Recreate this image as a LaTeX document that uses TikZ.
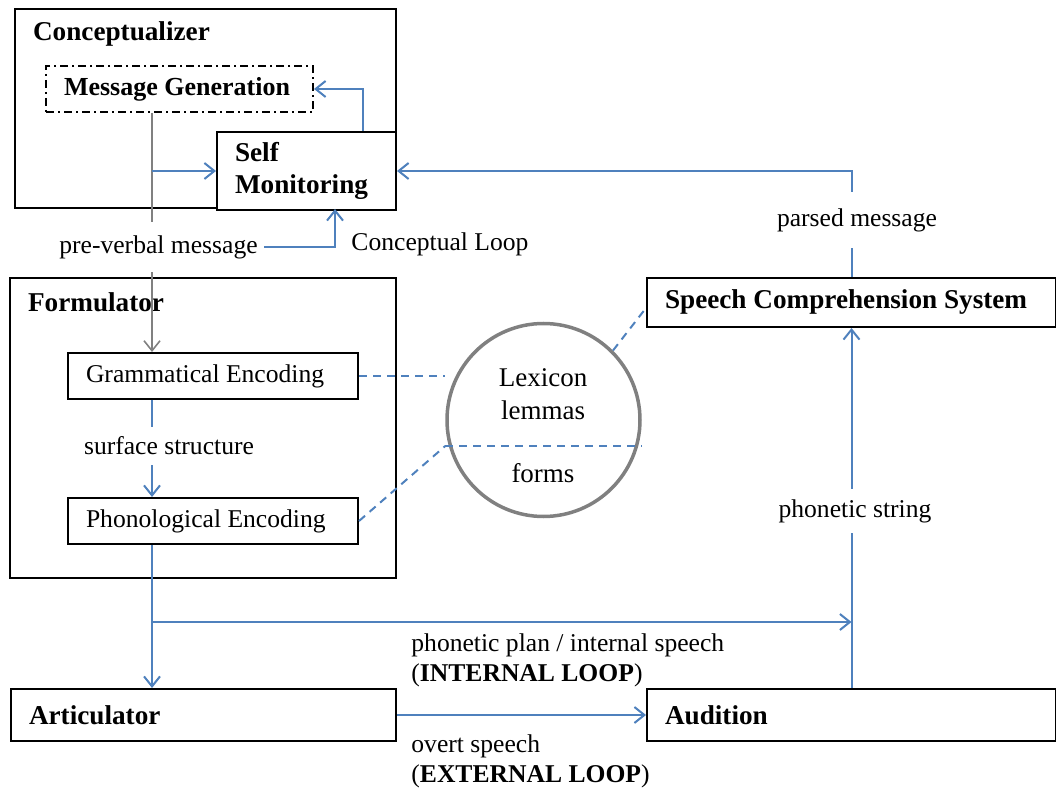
\documentclass[tikz,border=0pt]{standalone}
\usepackage{fontspec}
\setmainfont{Liberation Serif}
\usepackage{tikz}
\usetikzlibrary{arrows.meta,positioning}
\definecolor{corazul}{RGB}{79,129,189}
\definecolor{corcinza}{RGB}{128,128,128}

\begin{document}
\begin{tikzpicture}[
  x=0.5pt, y=-0.5pt,
  every node/.style={font=\fontsize{12.8}{15}\selectfont},
  modulo/.style={draw, line width=1pt, anchor=north west, inner xsep=9pt,
                 inner ysep=0pt, align=flush left, font=\fontsize{13.6}{16}\selectfont\bfseries},
  titulo/.style={anchor=west, font=\fontsize{13.6}{16}\selectfont\bfseries},
  rotulo/.style={inner xsep=3pt},
  seta/.style={-{Straight Barb[length=5pt,width=8pt]}, line width=1pt, color=corazul},
  fio/.style={line width=1pt, color=corazul},
  trilha/.style={line width=0.8pt, color=corcinza},
  elo/.style={dash pattern=on 4pt off 3pt, line width=1pt, color=corazul}
]
  \useasboundingbox (0,0) rectangle (1056,791);

  % conceptualizer
  \node[modulo, minimum width=190.5pt, minimum height=99.5pt] (concept) at (14,8) {};
  \node[titulo] (concepttitle) at (26,34) {Conceptualizer};
  \node[modulo, dash pattern=on 4pt off 2pt on 1pt off 2pt, text width=115.5pt,
        minimum height=23pt, font=\fontsize{13}{16}\selectfont\bfseries] (msg) at (45,65) {Message Generation};
  \node[modulo, text width=71.5pt, minimum height=39pt, fill=white] (self) at (216,131) {Self\\Monitoring};

  % formulator
  \node[modulo, minimum width=193pt, minimum height=150pt] (formul) at (9,277) {};
  \node[titulo] (formtitle) at (21,302) {Formulator};
  \node[modulo, font=\fontsize{12.8}{15}\selectfont, text width=127pt,
        minimum height=23pt] (gram) at (67,352) {Grammatical Encoding};
  \node[modulo, font=\fontsize{12.8}{15}\selectfont, text width=127pt,
        minimum height=23pt] (phon) at (67,497) {Phonological Encoding};

  % lexicon
  \node[circle, draw=corcinza, line width=1.75pt, minimum size=96.5pt, inner sep=0pt] (lex) at (543.5,420) {};
  \node[font=\fontsize{13.5}{16}\selectfont] (lexicon) at (543,378) {Lexicon};
  \node[font=\fontsize{13.5}{16}\selectfont] (lemmas) at (543,410) {lemmas};
  \node[font=\fontsize{13.5}{16}\selectfont] (forms) at (543,473) {forms};

  % right side and bottom
  \node[modulo, text width=186.5pt, minimum height=24.5pt] (speech) at (646,277) {Speech Comprehension System};
  \node[modulo, text width=174.5pt, minimum height=26pt] (artic) at (10,688) {Articulator};
  \node[modulo, text width=186.5pt, minimum height=26pt] (aud) at (646,688) {Audition};

  % labels on the lines
  \node[rotulo, inner ysep=6.5pt] (pv) at (158.5,247) {pre-verbal message};
  \node[rotulo] (cloop) at (440,244) {Conceptual Loop};
  \node[rotulo, inner ysep=8pt] (parsed) at (857,220) {parsed message};
  \node[rotulo, inner ysep=4.75pt] (ss) at (169,446) {surface structure};
  \node[rotulo, inner ysep=5pt] (phstr) at (855,511) {phonetic string};
  \node[rotulo, anchor=west, align=flush left] (intloop) at (405,660) {phonetic plan / internal speech\\(\textbf{INTERNAL LOOP})};
  \node[rotulo, anchor=west, align=flush left] (extloop) at (405,761) {overt speech\\(\textbf{EXTERNAL LOOP})};

  \coordinate (trunk) at (152,0);
  \coordinate (selfup) at (363,131);
  \coordinate (selfin) at (335,209);
  \coordinate (split) at (152,622);

  % message flow
  \draw[trilha] (msg.south -| trunk) -- (pv.north -| trunk);
  \draw[trilha, -{Straight Barb[length=5pt,width=8pt]}] (pv.south -| trunk) -- (gram.north -| trunk);
  \draw[seta] (trunk |- self.west) -- (self.west);
  \draw[seta] (selfup) |- (msg.east);
  \draw[seta] (pv.east) -| (selfin);
  \draw[fio] (speech.north) -- (parsed.south -| speech.north);
  \draw[seta] (parsed.north -| speech.north) |- (self.east);

  \draw[fio] (gram.south -| trunk) -- (ss.north -| trunk);
  \draw[seta] (ss.south -| trunk) -- (phon.north -| trunk);
  \draw[seta] (phon.south -| trunk) -- (artic.north -| trunk);
  \draw[seta] (split) -- (split -| aud.north);
  \draw[seta] (artic.east) -- (aud.west);
  \draw[fio] (aud.north) -- (phstr.south -| aud.north);
  \draw[seta] (phstr.north -| aud.north) -- (speech.south);

  % lexicon links
  \draw[elo] (gram.east) -- (lex.west |- gram.east);
  \draw[elo] (phon.east) -- ([yshift=-13pt]lex.west);
  \draw[elo] ([yshift=-13pt]lex.west) -- ([yshift=-13pt]lex.east);
  \draw[elo] (lex.45) -- ([yshift=-2.75pt]speech.west);
\end{tikzpicture}
\end{document}
